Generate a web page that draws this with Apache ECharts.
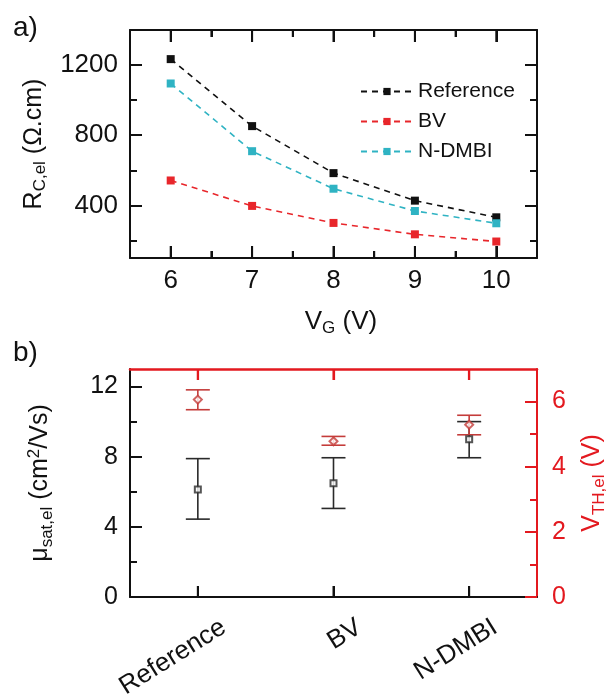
<!DOCTYPE html>
<html>
<head>
<meta charset="utf-8">
<script src="https://cdn.jsdelivr.net/npm/echarts@6/dist/echarts.min.js"></script>
<style>
html,body{margin:0;padding:0;background:#fff;}
#c{width:609px;height:696px;}
</style>
</head>
<body>
<div id="c"></div>
<script>
// ---- Panel a data ----
const vg = [6, 7, 8, 9, 10];
const rReference = [1234, 852, 584, 427, 332];
const rBV = [542, 397, 300, 235, 194];
const rNDMBI = [1095, 709, 495, 368, 298];
const vgTicks = [6, 7, 8, 9, 10];
const vgMinorTicks = [6.5, 7.5, 8.5, 9.5];
const rTicks = [400, 800, 1200];
const rMinorTicks = [200, 600, 1000];

// ---- Panel b data ----
const samples = ['Reference', 'BV', 'N-DMBI'];
const muMean = [6.13, 6.49, 9.0];
const muLow = [4.44, 5.05, 7.94];
const muHigh = [7.89, 7.94, 10.0];
const vthMean = [6.06, 4.78, 5.29];
const vthLow = [5.75, 4.66, 4.98];
const vthHigh = [6.36, 4.93, 5.58];
const muTicks = [0, 4, 8, 12];
const muMinorTicks = [2, 6, 10];
const vthTicks = [0, 2, 4, 6];
const vthMinorTicks = [1, 3, 5];

const FONT = 'Liberation Sans, Arial, sans-serif';
const BLACK = '#111';
const RED = '#e3191f';
const BAR_RED = '#c43c3a';
const BAR_BLACK = '#2a2a2a';
const COL_REF = '#111111';
const COL_BV = '#e8262b';
const COL_ND = '#2fb3c3';

const RX = [5.5, 10.5], RY = [100, 1400], RMU = [0, 13], RVTH = [0, 7];

function pairs(xs, ys) { return xs.map((x, i) => [x, ys[i]]); }
function onlyValues(list) {
  return v => (list.some(t => Math.abs(t - v) < 1e-9) ? String(Math.round(v * 100) / 100) : '');
}

// axis with line + labels (labels filtered from the tick-label arrays), no ticks of its own
function labelAxis(color, gridIndex, position, labelValues, step, fontSize, margin, range, extra) {
  return Object.assign({
    type: 'value', gridIndex: gridIndex, position: position, min: range[0], max: range[1], interval: step,
    axisLine: { show: true, onZero: false, lineStyle: { color: color, width: 2 } },
    axisTick: { show: false },
    axisLabel: { show: !!labelValues, formatter: onlyValues(labelValues || []),
      color: color, fontFamily: FONT, fontSize: fontSize, margin: margin },
    splitLine: { show: false }
  }, extra || {});
}
function tickAxis(color, gridIndex, position, tickValues, len, range) {
  return {
    type: 'value', gridIndex: gridIndex, position: position, min: range[0], max: range[1],
    axisLine: { show: false, onZero: false },
    axisTick: { show: true, inside: true, length: len, customValues: tickValues, lineStyle: { color: color, width: 2 } },
    axisLabel: { show: false },
    splitLine: { show: false }
  };
}

const xAxes = [
  // 0: panel a bottom (ticks every 0.5 V from min 5.5)
  labelAxis(BLACK, 0, 'bottom', vgTicks, 0.5, 26, 10, RX, {
    axisTick: { show: true, inside: true, length: 7, lineStyle: { color: BLACK, width: 2 } },
    name: '{m|V}{s|G}{m| (V)}', nameLocation: 'middle', nameGap: 48,
    nameTextStyle: { padding: [0, 0, 0, 15], rich: {
      m: { fontSize: 26, fontFamily: FONT, color: BLACK },
      s: { fontSize: 17, fontFamily: FONT, color: BLACK, padding: [14, 0, 0, 0] } } } }),
  // 1: panel a top
  labelAxis(BLACK, 0, 'top', null, 0.5, 26, 10, RX, {
    axisTick: { show: true, inside: true, length: 7, lineStyle: { color: BLACK, width: 2 } } }),
  // 2: panel b bottom category
  {
    type: 'category', gridIndex: 1, position: 'bottom', data: samples, boundaryGap: true,
    axisLine: { show: true, onZero: false, lineStyle: { color: BLACK, width: 2 } },
    axisTick: { show: true, inside: true, alignWithLabel: true, length: 11, lineStyle: { color: BLACK, width: 2 } },
    axisLabel: { show: true, interval: 0, rotate: 32, fontSize: 26, fontFamily: FONT, color: BLACK,
      margin: 15, verticalAlign: 'top', lineHeight: 50, padding: [0, -15, 0, 0] },
    splitLine: { show: false }
  },
  // 3: panel b top (red)
  {
    type: 'category', gridIndex: 1, position: 'top', data: samples, boundaryGap: true,
    axisLine: { show: true, onZero: false, lineStyle: { color: RED, width: 2.5 } },
    axisTick: { show: true, inside: true, alignWithLabel: true, length: 11, lineStyle: { color: RED, width: 2.2 } },
    axisLabel: { show: false },
    splitLine: { show: false }
  },
  // 4-5: panel a major ticks
  tickAxis(BLACK, 0, 'bottom', vgTicks, 12, RX),
  tickAxis(BLACK, 0, 'top', vgTicks, 12, RX)
];

const richY = {
  m: { fontSize: 25, fontFamily: FONT, color: BLACK },
  s: { fontSize: 17, fontFamily: FONT, color: BLACK, padding: [14, 0, 0, 0] },
  p: { fontSize: 17, fontFamily: FONT, color: BLACK, padding: [0, 0, 12, 0] }
};
const richYR = {
  m: { fontSize: 25, fontFamily: FONT, color: RED },
  s: { fontSize: 17, fontFamily: FONT, color: RED, padding: [14, 0, 0, 0] }
};

const yAxes = [
  labelAxis(BLACK, 0, 'left', rTicks, 100, 26, 12, RY, {
    name: '{m|R}{s|C,el}{m| (Ω.cm)}', nameLocation: 'middle', nameGap: 64, nameRotate: 90,
    nameTextStyle: { rich: richY } }),                    // 0
  tickAxis(BLACK, 0, 'left', rTicks, 12, RY),             // 1
  tickAxis(BLACK, 0, 'left', rMinorTicks, 7, RY),         // 2
  labelAxis(BLACK, 0, 'right', null, 100, 26, 12, RY),    // 3
  tickAxis(BLACK, 0, 'right', rTicks, 12, RY),            // 4
  tickAxis(BLACK, 0, 'right', rMinorTicks, 7, RY),        // 5
  labelAxis(BLACK, 1, 'left', muTicks, 1, 25, 12, RMU, {
    name: '{m|μ}{s|sat,el}{m| (cm}{p|2}{m|/Vs)}', nameLocation: 'middle', nameGap: 74, nameRotate: 90,
    nameTextStyle: { rich: richY } }),                    // 6
  tickAxis(BLACK, 1, 'left', muTicks, 12, RMU),           // 7
  tickAxis(BLACK, 1, 'left', muMinorTicks, 7, RMU),       // 8
  labelAxis(RED, 1, 'right', vthTicks, 1, 25, 15, RVTH, {
    name: '{m|V}{s|TH,el}{m| (V)}', nameLocation: 'middle', nameGap: 40, nameRotate: 90,
    nameTextStyle: { rich: richYR } }),                   // 9
  tickAxis(RED, 1, 'right', vthTicks, 12, RVTH),          // 10
  tickAxis(RED, 1, 'right', vthMinorTicks, 7, RVTH)       // 11
];

// x tick marks as thin symbols placed through the axis scales (inward from bottom / top edge)
function tickMarks(xIdx, yIdx, xs, yEdge, len, up, color) {
  return {
    type: 'scatter', xAxisIndex: xIdx, yAxisIndex: yIdx, silent: true, clip: false,
    data: xs.map(x => [x, yEdge]),
    symbol: 'rect', symbolSize: [2, len], symbolOffset: [0, up ? -len / 2 : len / 2],
    itemStyle: { color: color, opacity: 1 }, z: 6
  };
}

function errorBarRenderer(color) {
  return function (params, api) {
    const x = api.value(0);
    const lo = api.coord([x, api.value(1)]);
    const hi = api.coord([x, api.value(2)]);
    const hw = 12;
    const st = { stroke: color, lineWidth: 1.6 };
    return {
      type: 'group',
      children: [
        { type: 'line', shape: { x1: lo[0], y1: lo[1], x2: hi[0], y2: hi[1] }, style: st },
        { type: 'line', shape: { x1: lo[0] - hw, y1: lo[1], x2: lo[0] + hw, y2: lo[1] }, style: st },
        { type: 'line', shape: { x1: hi[0] - hw, y1: hi[1], x2: hi[0] + hw, y2: hi[1] }, style: st }
      ]
    };
  };
}

function lineSeries(name, ys, color) {
  return {
    name: name, type: 'line', xAxisIndex: 0, yAxisIndex: 0,
    data: pairs(vg, ys),
    symbol: 'rect', symbolSize: 8,
    itemStyle: { color: color },
    lineStyle: { color: color, width: 1.6, type: [6, 5] },
    z: 3
  };
}

const catIdx = samples.map((s, i) => i);

const option = {
  animation: false,
  backgroundColor: '#fff',
  title: [
    { text: 'a)', left: 8, top: 9, textStyle: { fontSize: 28, fontWeight: 'normal', fontFamily: FONT, color: BLACK } },
    { text: 'b)', left: 8, top: 334, textStyle: { fontSize: 28, fontWeight: 'normal', fontFamily: FONT, color: BLACK } }
  ],
  grid: [
    { left: 130, top: 30, width: 407, height: 228, containLabel: false, outerBoundsMode: 'none' },
    { left: 130, top: 369, width: 407, height: 228, containLabel: false, outerBoundsMode: 'none' }
  ],
  legend: {
    data: ['Reference', 'BV', 'N-DMBI'],
    orient: 'vertical', left: 355, top: 76,
    itemWidth: 52, itemHeight: 9, itemGap: 9,
    textStyle: { fontSize: 21, fontFamily: FONT, color: BLACK }
  },
  xAxis: xAxes,
  yAxis: yAxes,
  series: [
    tickMarks(0, 0, vgTicks, RY[0], 12, true, BLACK),
    tickMarks(0, 0, vgMinorTicks, RY[0], 7, true, BLACK),
    tickMarks(0, 0, vgTicks, RY[1], 12, false, BLACK),
    tickMarks(0, 0, vgMinorTicks, RY[1], 7, false, BLACK),
    tickMarks(2, 6, catIdx, RMU[0], 11, true, BLACK),
    tickMarks(2, 6, catIdx, RMU[1], 11, false, RED),
    lineSeries('Reference', rReference, COL_REF),
    lineSeries('BV', rBV, COL_BV),
    lineSeries('N-DMBI', rNDMBI, COL_ND),
    {
      type: 'custom', name: 'mu err', xAxisIndex: 2, yAxisIndex: 6,
      renderItem: errorBarRenderer(BAR_BLACK),
      data: samples.map((s, i) => [i, muLow[i], muHigh[i]]),
      encode: { x: 0, y: [1, 2] }, z: 2
    },
    {
      type: 'scatter', name: 'mu', xAxisIndex: 2, yAxisIndex: 6,
      data: samples.map((s, i) => [i, muMean[i]]),
      symbol: 'emptyRect', symbolSize: 6,
      itemStyle: { color: BAR_BLACK, borderWidth: 1.2 }, z: 4
    },
    {
      type: 'custom', name: 'vth err', xAxisIndex: 2, yAxisIndex: 9,
      renderItem: errorBarRenderer(BAR_RED),
      data: samples.map((s, i) => [i, vthLow[i], vthHigh[i]]),
      encode: { x: 0, y: [1, 2] }, z: 3
    },
    {
      type: 'scatter', name: 'vth', xAxisIndex: 2, yAxisIndex: 9,
      data: samples.map((s, i) => [i, vthMean[i]]),
      symbol: 'emptyDiamond', symbolSize: 8,
      itemStyle: { color: BAR_RED, borderWidth: 1.2 }, z: 5
    }
  ]
};

const chart = echarts.init(document.getElementById('c'));
chart.setOption(option);
</script>
</body>
</html>
